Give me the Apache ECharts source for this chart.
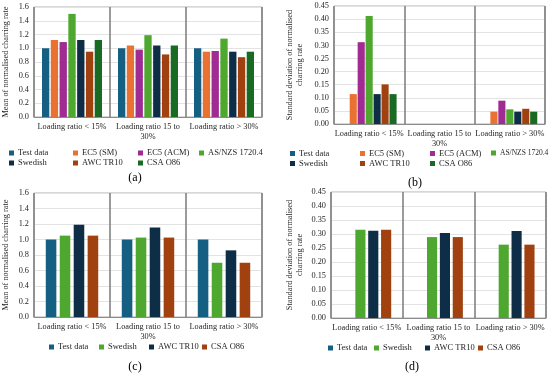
<!DOCTYPE html>
<html><head><meta charset="utf-8">
<script src="https://cdn.jsdelivr.net/npm/echarts@6/dist/echarts.min.js"></script>
<style>html,body{margin:0;padding:0;background:#fff}#c{width:550px;height:377px}</style>
</head><body><div id="c"></div>
<script>
const categories = ['Loading ratio < 15%', 'Loading ratio 15 to 30%', 'Loading ratio > 30%'];
const namesAB = ['Test data', 'EC5 (SM)', 'EC5 (ACM)', 'AS/NZS 1720.4', 'Swedish', 'AWC TR10', 'CSA O86'];
const namesCD = ['Test data', 'Swedish', 'AWC TR10', 'CSA O86'];
const yTicksMean = [0, 0.2, 0.4, 0.6, 0.8, 1.0, 1.2, 1.4, 1.6];
const yTicksStd = [0, 0.05, 0.10, 0.15, 0.20, 0.25, 0.30, 0.35, 0.40, 0.45];

// (a) mean of normalised charring rate
const aTest = [1.00, 1.00, 1.00];
const aSM   = [1.12, 1.04, 0.95];
const aACM  = [1.09, 0.98, 0.96];
const aAS   = [1.50, 1.19, 1.14];
const aSwe  = [1.12, 1.04, 0.95];
const aAWC  = [0.95, 0.91, 0.87];
const aCSA  = [1.12, 1.04, 0.95];
// (b) standard deviation
const bTest = [0, 0, 0];
const bSM   = [0.114, 0, 0.047];
const bACM  = [0.312, 0, 0.089];
const bAS   = [0.412, 0, 0.056];
const bSwe  = [0.114, 0, 0.047];
const bAWC  = [0.151, 0, 0.058];
const bCSA  = [0.114, 0, 0.047];
// (c) mean
const cTest = [1.00, 1.00, 1.00];
const cSwe  = [1.05, 1.025, 0.70];
const cAWC  = [1.19, 1.155, 0.86];
const cCSA  = [1.05, 1.025, 0.70];
// (d) standard deviation
const dTest = [0, 0, 0];
const dSwe  = [0.315, 0.289, 0.262];
const dAWC  = [0.312, 0.304, 0.311];
const dCSA  = [0.315, 0.289, 0.262];

const dataAB_a = [aTest, aSM, aACM, aAS, aSwe, aAWC, aCSA];
const dataAB_b = [bTest, bSM, bACM, bAS, bSwe, bAWC, bCSA];
const dataCD_c = [cTest, cSwe, cAWC, cCSA];
const dataCD_d = [dTest, dSwe, dAWC, dCSA];

const colAB = ['#156082', '#E97132', '#A02B93', '#4EA72E', '#0E2E47', '#A0410F', '#196B24'];
const colCD = ['#156082', '#4EA72E', '#0E2E47', '#A0410F'];

const FF = 'Liberation Serif';
const TXT = '#262626';

const grids = [
  {left: 34, top: 7, width: 228, height: 110},
  {left: 334, top: 6, width: 211, height: 118},
  {left: 34, top: 193, width: 228, height: 124},
  {left: 331, top: 192, width: 215, height: 126}
];
grids.forEach(g => { g.show = true; g.borderColor = '#b0b0b0'; g.borderWidth = 1; g.containLabel = false; });

function xAx(i) {
  return {
    type: 'category', gridIndex: i, data: categories,
    axisTick: {show: false},
    axisLine: {show: true, lineStyle: {color: '#8c8c8c', width: 1}},
    splitLine: {show: true, lineStyle: {color: '#7a7a7a', width: 1.5}},
    axisLabel: {
      fontFamily: FF, fontSize: 8.3, color: TXT, margin: 5, lineHeight: 10, interval: 0,
      formatter: v => v.replace('to 30%', 'to\n30%')
    }
  };
}
function yAx(i, ticks, dec, name, gap) {
  return {
    type: 'value', gridIndex: i, min: ticks[0], max: ticks[ticks.length - 1],
    interval: ticks[1] - ticks[0],
    name: name, nameLocation: 'middle', nameGap: gap, nameRotate: 90,
    nameTextStyle: {fontFamily: FF, fontSize: 8.3, color: TXT, lineHeight: 10},
    axisLine: {show: false}, axisTick: {show: false},
    splitLine: {show: true, lineStyle: {color: '#e3e3e3', width: 1}},
    axisLabel: {fontFamily: FF, fontSize: 8.3, color: TXT, margin: 5, formatter: v => v.toFixed(dec)}
  };
}

const series = [];
function addSeries(names, datas, cols, idx, cg, bg) {
  names.forEach((n, k) => {
    series.push({
      type: 'bar', name: n, xAxisIndex: idx, yAxisIndex: idx, data: datas[k],
      itemStyle: {color: cols[k]}, barCategoryGap: cg, barGap: bg,
      emphasis: {disabled: true}
    });
  });
}
addSeries(namesAB, dataAB_a, colAB, 0, '21%', '20%');
addSeries(namesAB, dataAB_b, colAB, 1, '22%', '12%');
addSeries(namesCD, dataCD_c, colCD, 2, '31%', '32%');
addSeries(namesCD, dataCD_d, colCD, 3, '32%', '27%');

const legends = [];
function leg(name, color, x, y, fs) {
  legends.push({
    left: x, top: y - 5, padding: 0, itemWidth: 5, itemHeight: 5, itemGap: 0,
    icon: 'rect', selectedMode: false,
    data: [{name: name, itemStyle: {color: color}}],
    textStyle: {fontFamily: FF, fontSize: fs || 8.5, color: TXT, padding: [0, 0, 0, -1]}
  });
}
// (a)
const legAx = [9, 73, 138, 199, 9, 73, 138];
const legAy = [153.5, 153.5, 153.5, 153.5, 163.5, 163.5, 163.5];
namesAB.forEach((n, k) => leg(n, colAB[k], legAx[k], legAy[k]));
// (b)
const legBx = [290, 360, 430, 491, 290, 360, 430];
const legBy = [154, 154, 154, 154, 164, 164, 164];
namesAB.forEach((n, k) => leg(n, colAB[k], legBx[k], legBy[k], k === 3 ? 7.5 : 8.5));
// (c)
const legCx = [49, 99, 149, 202];
namesCD.forEach((n, k) => leg(n, colCD[k], legCx[k], 347.5));
// (d)
const legDx = [328, 374, 425, 478];
namesCD.forEach((n, k) => leg(n, colCD[k], legDx[k], 348.5));

function lbl(t, x, y) {
  return {type: 'text', x: x, y: y, style: {text: t, font: '12px "Liberation Serif"', fill: '#000', textAlign: 'center', textVerticalAlign: 'middle'}};
}

const chart = echarts.init(document.getElementById('c'), null, {renderer: 'canvas'});
chart.setOption({
  animation: false,
  grid: grids,
  xAxis: [xAx(0), xAx(1), xAx(2), xAx(3)],
  yAxis: [
    yAx(0, yTicksMean, 1, 'Mean of normalised charring rate', 23),
    yAx(1, yTicksStd, 2, 'Standard deviation of normalised\ncharring rate', 29),
    yAx(2, yTicksMean, 1, 'Mean of normalised charring rate', 23),
    yAx(3, yTicksStd, 2, 'Standard deviation of normalised\ncharring rate', 26)
  ],
  legend: legends,
  series: series,
  graphic: [lbl('(a)', 135, 178), lbl('(b)', 415, 183), lbl('(c)', 135, 367), lbl('(d)', 412, 367)]
});
</script></body></html>
